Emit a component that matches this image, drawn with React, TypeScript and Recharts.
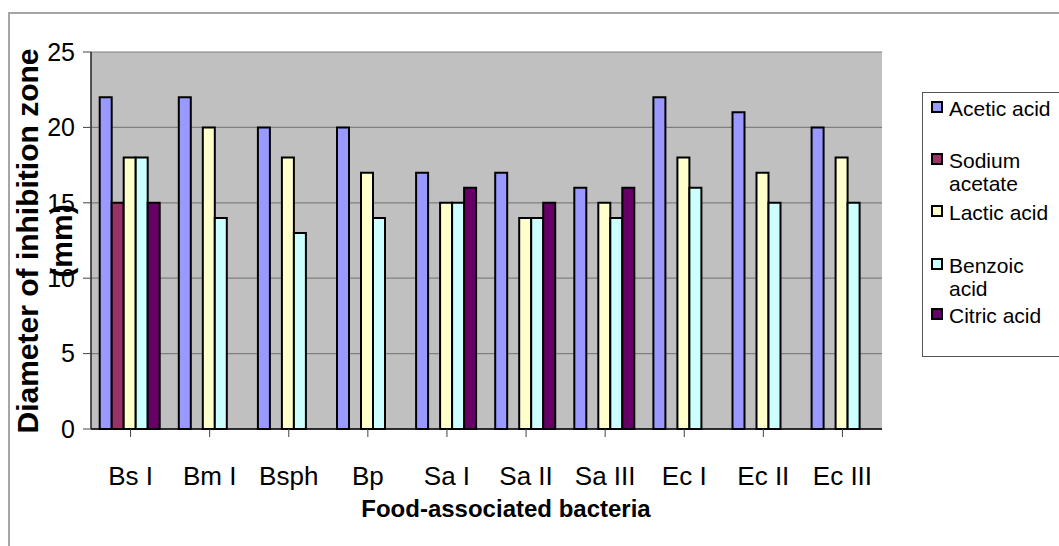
import React from 'react';
import {
  BarChart,
  Bar,
  XAxis,
  YAxis,
  CartesianGrid,
  Legend,
} from 'recharts';

// bacteria on the x axis
const categories = ['Bs I', 'Bm I', 'Bsph', 'Bp', 'Sa I', 'Sa II', 'Sa III', 'Ec I', 'Ec II', 'Ec III'];

// inhibition zone diameters (mm), null = no bar
const acetic = [22, 22, 20, 20, 17, 17, 16, 22, 21, 20];
const sodium = [15, null, null, null, null, null, null, null, null, null];
const lactic = [18, 20, 18, 17, 15, 14, 15, 18, 17, 18];
const benzoic = [18, 14, 13, 14, 15, 14, 14, 16, 15, 15];
const citric = [15, null, null, null, 16, 15, 16, null, null, null];

const yTicks = [0, 5, 10, 15, 20, 25];

const series = [
  { key: 'acetic', name: 'Acetic acid', color: '#9999FF' },
  { key: 'sodium', name: 'Sodium acetate', color: '#993366' },
  { key: 'lactic', name: 'Lactic acid', color: '#FFFFCC' },
  { key: 'benzoic', name: 'Benzoic acid', color: '#CCFFFF' },
  { key: 'citric', name: 'Citric acid', color: '#660066' },
];

const data = categories.map((name, i) => ({
  name,
  acetic: acetic[i],
  sodium: sodium[i],
  lactic: lactic[i],
  benzoic: benzoic[i],
  citric: citric[i],
}));

const FONT = '"Liberation Sans", Arial, sans-serif';

// legend rows: top offset of each entry inside the box
const legendTops = [4, 56, 108, 161, 211];

function LegendBox() {
  return (
    <div
      style={{
        position: 'relative',
        width: 137,
        height: 265,
        borderTop: '1px solid #555',
        borderLeft: '1px solid #555',
        borderBottom: '1px solid #555',
        boxSizing: 'border-box',
        fontFamily: FONT,
        fontSize: 21,
        lineHeight: '23px',
        color: '#000',
      }}
    >
      {series.map((s, i) => (
        <div
          key={s.key}
          style={{ position: 'absolute', left: 8, top: legendTops[i], width: 130, display: 'flex' }}
        >
          <div
            style={{
              width: 12,
              height: 12,
              marginTop: 4,
              flex: '0 0 12px',
              background: s.color,
              border: '2px solid #000',
              boxSizing: 'border-box',
            }}
          />
          <div style={{ marginLeft: 6, width: 110 }}>{s.name}</div>
        </div>
      ))}
    </div>
  );
}

function YTitle() {
  return (
    <text
      transform="translate(38,241) rotate(-90)"
      textAnchor="middle"
      fontFamily={FONT}
      fontWeight="bold"
      fontSize={30}
      fill="#000"
    >
      <tspan x={0} dy={0}>Diameter of inhibition zone</tspan>
      <tspan x={0} dy={34}>(mm)</tspan>
    </text>
  );
}

function XTitle() {
  return (
    <text
      x={506}
      y={517}
      textAnchor="middle"
      fontFamily={FONT}
      fontWeight="bold"
      fontSize={24}
      fill="#000"
    >
      Food-associated bacteria
    </text>
  );
}

export default function App() {
  return (
    <div
      style={{
        position: 'absolute',
        left: 0,
        top: 0,
        width: 1059,
        height: 546,
        background: '#fff',
        overflow: 'hidden',
      }}
    >
      <div
        style={{
          position: 'absolute',
          left: 8,
          top: 12,
          width: 1060,
          height: 600,
          borderTop: '2px solid #a6a6a6',
          borderLeft: '2px solid #a6a6a6',
          boxSizing: 'border-box',
        }}
      />
      <BarChart
        width={1059}
        height={546}
        data={data}
        margin={{ top: 52, right: 177, bottom: 0, left: 0 }}
        barCategoryGap="11%"
        barGap={0}
        style={{ position: 'absolute', left: 0, top: 0 }}
      >
        <CartesianGrid vertical={false} fill="#C0C0C0" stroke="#7f7f7f" strokeWidth={1.2} />
        <XAxis
          dataKey="name"
          height={117}
          tickSize={8}
          tickMargin={30}
          interval={0}
          axisLine={{ stroke: '#000', strokeWidth: 1.5 }}
          tickLine={{ stroke: '#444' }}
          tick={{ fontFamily: FONT, fontSize: 26, fill: '#000' }}
          label={<XTitle />}
        />
        <YAxis
          width={91}
          domain={[0, 25]}
          ticks={yTicks}
          tickSize={8}
          tickMargin={8}
          axisLine={{ stroke: '#222', strokeWidth: 1.5 }}
          tickLine={{ stroke: '#444' }}
          tick={{ fontFamily: FONT, fontSize: 25, fill: '#000' }}
          label={<YTitle />}
        />
        <YAxis
          yAxisId="border"
          orientation="right"
          width={0}
          domain={[0, 25]}
          tick={false}
          tickLine={false}
          axisLine={{ stroke: '#808080', strokeWidth: 2 }}
        />
        {series.map((s) => (
          <Bar
            key={s.key}
            dataKey={s.key}
            name={s.name}
            fill={s.color}
            stroke="#000"
            strokeWidth={2}
            isAnimationActive={false}
          />
        ))}
        <Legend
          layout="horizontal"
          verticalAlign="middle"
          align="center"
          content={() => <LegendBox />}
          wrapperStyle={{ left: 922, top: 92, width: 137, height: 265 }}
        />
      </BarChart>
    </div>
  );
}
